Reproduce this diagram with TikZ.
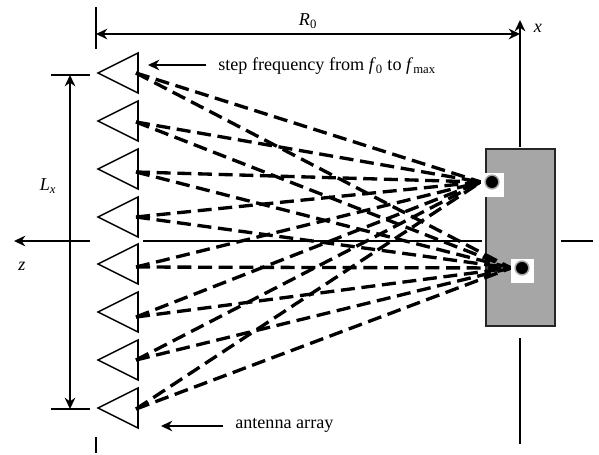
\documentclass[tikz,border=0pt]{standalone}
\usepackage{fontspec}
\setmainfont{Liberation Serif}
\usetikzlibrary{arrows.meta, positioning, calc, shapes.geometric}
\definecolor{plategray}{HTML}{A6A6A6}
\tikzset{
    antenna/.style={isosceles triangle, isosceles triangle stretches, shape border rotate=180, draw=black, line width=1.15pt, inner sep=0pt, minimum width=30pt, minimum height=30pt, anchor=apex},
    plate/.style={rectangle, draw=black!85, fill=plategray, line width=1.1pt, minimum width=51.5pt, minimum height=132.5pt},
    patch/.style={rectangle, fill=white, minimum width=17pt, minimum height=17.5pt, inner sep=0pt},
    scatterer/.style={circle, fill=black, draw=black!35, line width=1.1pt, minimum size=10.3pt, inner sep=0pt},
    label/.style={inner sep=0pt, font=\fontsize{13.6pt}{15pt}\selectfont},
    line/.style={line width=1.15pt, draw=black},
    arrow/.style={-{Stealth[length=8.5pt, width=8pt]}, line width=1.15pt, draw=black},
    dimarrow/.style={{Stealth[length=8.5pt, width=8pt]}-{Stealth[length=8.5pt, width=8pt]}, line width=1.15pt, draw=black},
    ray/.style={line width=2.5pt, draw=black, dash pattern=on 10.5pt off 5pt}
}

\begin{document}
\begin{tikzpicture}[x=0.75pt, y=-0.75pt]
        \useasboundingbox (0,0) rectangle (599,454);
        \node[plate] (target) at (520.5,237.5) {};

        % axes
        \coordinate (zleft) at (14,241);
        \coordinate (zgap1) at (90,241);
        \coordinate (zgap2) at (143,241);
        \coordinate (zgap3) at (482,241);
        \coordinate (zgap4) at (561,241);
        \coordinate (zright) at (593,241);
        \coordinate (xtop) at (520,20);
        \coordinate (xgap1) at (520,147);
        \coordinate (xgap2) at (520,338);
        \coordinate (xbottom) at (520,444);
        \draw[arrow] (zgap1) -- (zleft);
        \draw[line] (zgap2) -- (zgap3);
        \draw[line] (zgap4) -- (zright);
        \draw[arrow] (xgap1) -- (xtop);
        \draw[line] (xgap2) -- (xbottom);

        % antenna array
        \foreach \i/\y in {1/73, 2/121, 3/169, 4/217, 5/264, 6/312, 7/360, 8/408}
            \node[antenna] (ant\i) at (96,\y) {};

        % feed points on the antennas
        \foreach \i/\y in {1/73, 2/122, 3/172, 4/217, 5/267, 6/317, 7/360, 8/409}
            \coordinate (feed\i) at (136,\y);

        \coordinate (hit1) at (481,182);
        \coordinate (hit2) at (511,268);
        \foreach \i in {1,...,8} {
            \draw[ray] (feed\i) -- (hit1);
            \draw[ray] (feed\i) -- (hit2);
        }

        % scatterers
        \node[patch] (patch1) at (492.5,185) {};
        \node[patch] (patch2) at (522.5,271) {};
        \node[scatterer] (scat1) at (492,182) {};
        \node[scatterer] (scat2) at (522,268) {};

        % dimensions
        \coordinate (rtop) at (96,7);
        \coordinate (rmid) at (96,34);
        \coordinate (rlow) at (96,49);
        \coordinate (rend) at (520,34);
        \coordinate (tick) at (96,437);
        \coordinate (tickend) at (96,453);
        \draw[line] (rtop) -- (rlow);
        \draw[line] (tick) -- (tickend);
        \draw[dimarrow] (rmid) -- (rend);
        \coordinate (ltop) at (51,75);
        \coordinate (ltopr) at (90,75);
        \coordinate (lbot) at (51,409);
        \coordinate (lbotr) at (90,409);
        \coordinate (ldim1) at (70,75);
        \coordinate (ldim2) at (70,409);
        \draw[line] (ltop) -- (ltopr);
        \draw[line] (lbot) -- (lbotr);
        \draw[dimarrow] (ldim1) -- (ldim2);

        % labels
        \node[label] (rlabel) at (308,21) {\textit{R}\textsubscript{0}};
        \node[label] (xlabel) at (538,28) {\textit{x}};
        \node[label] (zlabel) at (22,266) {\textit{z}};
        \node[label] (llabel) at (48,186) {\textit{L}\textsubscript{\textit{x}}};
        \node[label, anchor=west] (steplabel) at (218,66) {step frequency from \textit{f}\textsubscript{0} to \textit{f}\textsubscript{max}};
        \node[label, anchor=west] (arraylabel) at (235,425) {antenna array};
        \coordinate (steparrow) at (206,65);
        \coordinate (steptip) at (148,65);
        \coordinate (arrayarrow) at (223,426);
        \coordinate (arraytip) at (161,426);
        \draw[arrow] (steparrow) -- (steptip);
        \draw[arrow] (arrayarrow) -- (arraytip);
    \end{tikzpicture}
\end{document}
